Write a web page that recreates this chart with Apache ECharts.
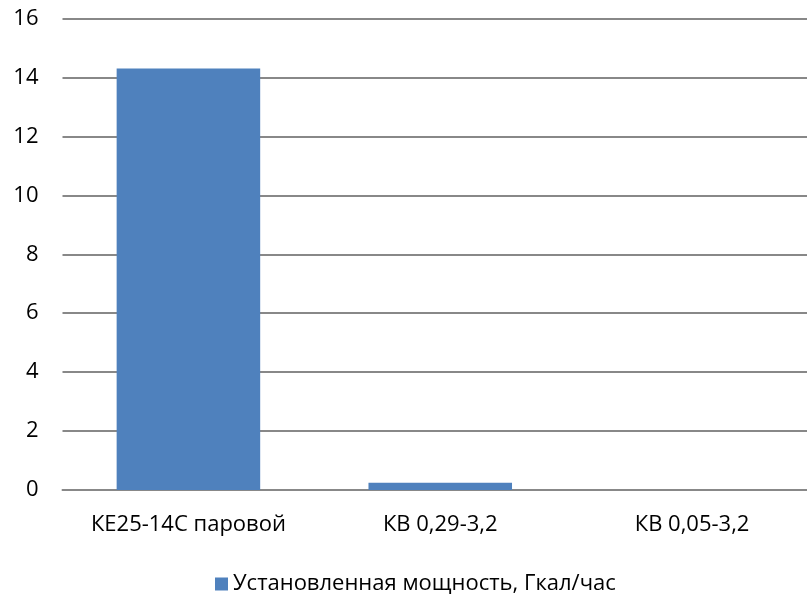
<!DOCTYPE html>
<html>
<head>
<meta charset="utf-8">
<script src="https://cdn.jsdelivr.net/npm/echarts@6/dist/echarts.min.js"></script>
<style>
  html, body { margin: 0; padding: 0; background: #fff; overflow: hidden; }
  /* the plot runs past the right edge of the window */
  #chart { width: 818px; height: 595px; }
</style>
</head>
<body>
<div id="chart"></div>
<script>
// Boiler types and their installed capacity
const categories = ['КЕ25-14С паровой', 'КВ 0,29-3,2', 'КВ 0,05-3,2'];
const capacity = [14.3, 0.25, 0];
const seriesName = 'Установленная мощность, Гкал/час';
const yTicks = { min: 0, max: 16, interval: 2 };

const font = '"Open Sans", "Noto Sans", sans-serif';
const chart = echarts.init(document.getElementById('chart'));
chart.setOption({
  animation: false,
  backgroundColor: '#ffffff',
  grid: { left: 62.5, right: 0, top: 18.5, bottom: 105, containLabel: false },
  legend: {
    top: 568,
    left: 210,
    itemWidth: 13,
    itemHeight: 13,
    itemGap: 6,
    icon: 'rect',
    textStyle: { fontFamily: font, fontSize: 22, color: '#000' },
    data: [seriesName]
  },
  xAxis: {
    type: 'category',
    data: categories,
    axisLine: { show: true, lineStyle: { color: '#888888', width: 2 } },
    axisTick: { show: false },
    axisLabel: { interval: 0, fontFamily: font, fontSize: 22, color: '#000', margin: 24 }
  },
  yAxis: {
    type: 'value',
    min: yTicks.min,
    max: yTicks.max,
    interval: yTicks.interval,
    axisLine: { show: false },
    axisTick: { show: false },
    axisLabel: { fontFamily: font, fontSize: 22, color: '#000', margin: 24 },
    splitLine: { lineStyle: { color: '#888888', width: 2 } }
  },
  series: [{
    name: seriesName,
    type: 'bar',
    data: capacity,
    barWidth: '57%',
    itemStyle: { color: '#4F81BD' }
  }]
});
</script>
</body>
</html>
